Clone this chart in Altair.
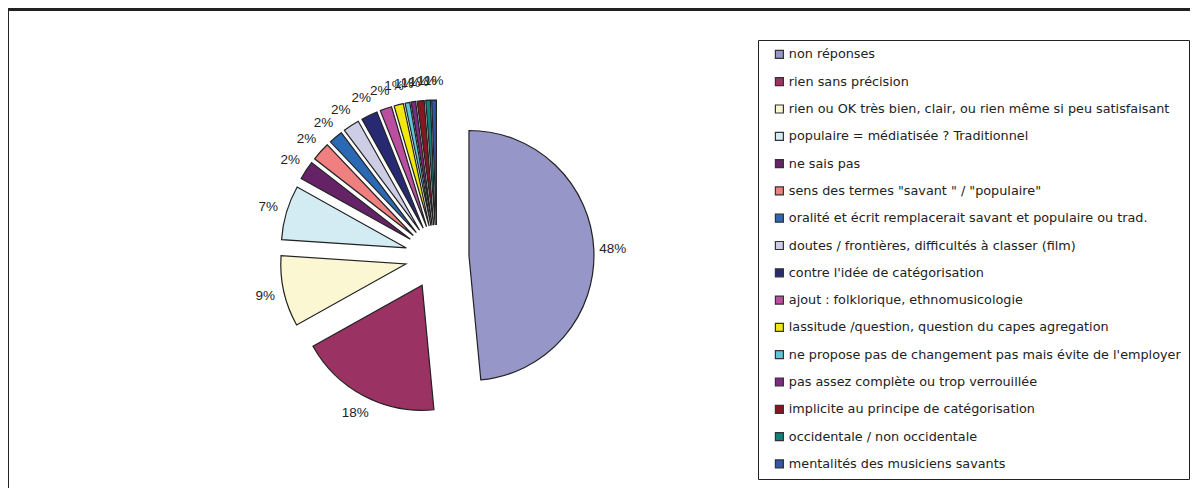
import altair as alt
import pandas as pd

categories = [
    "non réponses",
    "rien sans précision",
    "rien ou OK très bien, clair, ou rien même si peu satisfaisant",
    "populaire = médiatisée ? Traditionnel",
    "ne sais pas",
    "sens des termes \"savant \" / \"populaire\"",
    "oralité et écrit remplacerait savant et populaire ou trad.",
    "doutes / frontières, difficultés à classer (film)",
    "contre l'idée de catégorisation",
    "ajout : folklorique, ethnomusicologie",
    "lassitude /question, question du capes agregation",
    "ne propose pas de changement pas mais évite de l'employer",
    "pas assez complète ou trop verrouillée",
    "implicite au principe de catégorisation",
    "occidentale / non occidentale",
    "mentalités des musiciens savants",
]
values = [48.2, 18.3, 9.1, 7.0, 2.4, 2.4, 1.8, 2.1, 2.1, 1.5, 1.2, 0.6, 0.6, 0.9, 0.6, 0.6]
colors = ["#9696C9", "#9A3363", "#FAF7D2", "#D3ECF3", "#662266", "#F08080",
          "#2B69B5", "#CDCDE6", "#272A73", "#BA4FA0", "#F2E80F", "#5CC7DA",
          "#7E2A83", "#861622", "#11807A", "#3555A8"]

df = pd.DataFrame({"category": categories, "value": values, "order": list(range(len(values)))})

# geometry (layout constants)
CX, CY = 429, 249
R = 125
D = 32
LR = 176
FONT = "Liberation Sans"
LEGEND_FONT = "DejaVu Sans"

base = (
    alt.Chart(df)
    .transform_joinaggregate(total="sum(value)")
    .transform_window(cum="sum(value)", sort=[alt.SortField("order")], frame=[None, 0])
    .transform_calculate(
        a1="2*PI*datum.cum/datum.total",
        a0="2*PI*(datum.cum-datum.value)/datum.total",
        mid="PI*(2*datum.cum-datum.value)/datum.total",
        px=f"{CX}+{D}*sin(datum.mid)",
        py=f"{CY}-{D}*cos(datum.mid)",
        lx=f"{CX}+{LR}*sin(datum.mid)",
        ly=f"{CY}-{LR}*cos(datum.mid)",
        pct="datum.value/datum.total",
    )
)

arcs = base.mark_arc(radius=R, stroke="#222222", strokeWidth=1.2).encode(
    x=alt.X("px:Q", scale=None),
    y=alt.Y("py:Q", scale=None),
    theta=alt.Theta("a0:Q", scale=None),
    theta2=alt.Theta2("a1:Q"),
    color=alt.Color(
        "category:N",
        sort=categories,
        scale=alt.Scale(domain=categories, range=colors),
        legend=alt.Legend(
            title=None,
            orient="none",
            legendX=750,
            legendY=32,
            padding=8,
            symbolOffset=7,
            strokeColor="#222222",
            fillColor="white",
            symbolType="square",
            symbolSize=64,
            symbolStrokeColor="#333333",
            symbolStrokeWidth=1.2,
            labelFont=LEGEND_FONT,
            labelFontSize=12.8,
            labelColor="#222222",
            labelLimit=600,
            rowPadding=13.3,
            labelOffset=3,
        ),
    ),
    order=alt.Order("order:Q"),
)

labels = base.mark_text(font=FONT, fontSize=13.5, color="#222222").encode(
    x=alt.X("lx:Q", scale=None),
    y=alt.Y("ly:Q", scale=None),
    text=alt.Text("pct:Q", format=".0%"),
)

frame_top = alt.Chart(df).mark_rule(stroke="#222222", strokeWidth=2).encode(
    x=alt.value(0), x2=alt.value(1400), y=alt.value(1.5)
)
frame_left = alt.Chart(df).mark_rule(stroke="#222222", strokeWidth=2).encode(
    x=alt.value(0), y=alt.value(0.5), y2=alt.value(700)
)

chart = (
    alt.layer(frame_top, frame_left, arcs, labels)
    .properties(width=1182, height=480, padding=0, autosize="none")
    .configure_view(stroke=None)
)

chart.save("out.html", embed_options={"renderer": "svg", "actions": False})
